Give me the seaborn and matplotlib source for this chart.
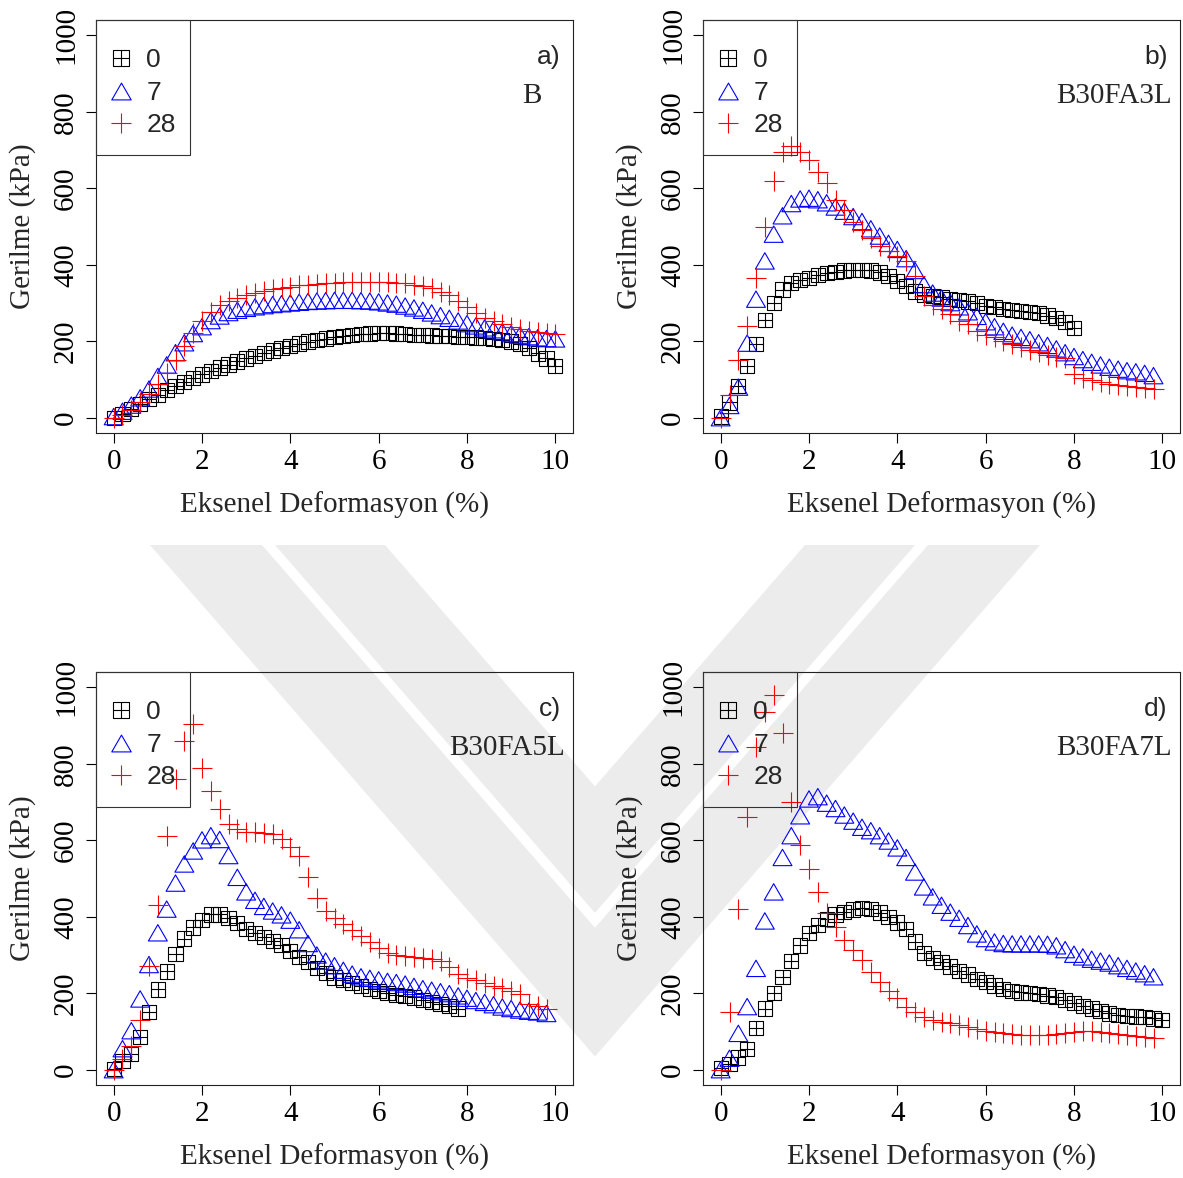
import seaborn as sns
from matplotlib import pyplot as plt
from matplotlib.path import Path
from matplotlib.lines import Line2D
from matplotlib.patches import Rectangle, Polygon

# strain readings (%), shared by every test series
STRAIN = [0.0, 0.2, 0.4, 0.6, 0.8, 1.0, 1.2, 1.4, 1.6, 1.8,
          2.0, 2.2, 2.4, 2.6, 2.8, 3.0, 3.2, 3.4, 3.6, 3.8,
          4.0, 4.2, 4.4, 4.6, 4.8, 5.0, 5.2, 5.4, 5.6, 5.8,
          6.0, 6.2, 6.4, 6.6, 6.8, 7.0, 7.2, 7.4, 7.6, 7.8,
          8.0, 8.2, 8.4, 8.6, 8.8, 9.0, 9.2, 9.4, 9.6, 9.8, 10.0]

AGES = ['0', '7', '28']

# a) B
b_0 = [0, 10, 22, 35, 48, 60, 72, 83, 94, 104, 113, 122, 131, 139, 147, 155, 162, 169, 176, 182,
       188, 194, 199, 203, 207, 211, 214, 217, 219, 220, 221, 221, 220, 219, 217, 216, 215, 214, 213, 212,
       211, 210, 208, 206, 203, 199, 192, 182, 168, 155, 135]
b_7 = [3, 17, 33, 52, 75, 108, 138, 170, 196, 220, 238, 254, 266, 275, 281, 286, 290, 293, 296, 298,
       300, 302, 304, 305, 306, 307, 307, 307, 306, 305, 303, 300, 297, 292, 287, 281, 274, 267, 260, 253,
       246, 240, 235, 230, 225, 220, 216, 212, 209, 207, 206]
b_28 = [0, 8, 20, 40, 62, 88, 118, 150, 188, 222, 252, 276, 294, 306, 314, 320, 326, 331, 336, 340,
        343, 346, 348, 350, 352, 353, 354, 355, 355, 355, 355, 354, 353, 351, 348, 344, 338, 330, 320, 306,
        290, 275, 262, 252, 244, 237, 231, 226, 223, 221, 219]

# b) B30FA3L
fa3_0 = [3, 40, 82, 135, 193, 255, 300, 335, 353, 360, 366, 373, 378, 382, 385, 386, 386, 385, 380, 370,
         358, 344, 330, 322, 319, 315, 311, 308, 304, 299, 293, 289, 285, 281, 279, 277, 273, 267, 261, 250,
         234]
fa3_7 = [0, 32, 80, 195, 310, 410, 480, 528, 560, 572, 574, 570, 562, 551, 540, 526, 513, 494, 475, 456,
         440, 416, 385, 348, 326, 313, 301, 290, 277, 265, 251, 238, 226, 216, 210, 204, 196, 189, 180, 170,
         160, 152, 145, 138, 132, 127, 123, 120, 116, 110]
fa3_28 = [0, 60, 150, 240, 365, 499, 620, 695, 711, 695, 675, 642, 615, 570, 542, 512, 490, 470, 450, 436,
          424, 410, 370, 318, 295, 285, 272, 252, 244, 228, 215, 210, 200, 194, 186, 178, 171, 165, 160, 155,
          115, 105, 98, 93, 89, 86, 83, 80, 77, 74]

# c) B30FA5L
fa5_0 = [2, 22, 42, 85, 150, 210, 257, 303, 343, 372, 392, 406, 406, 396, 384, 368, 357, 347, 337, 327,
         310, 295, 281, 265, 252, 241, 234, 227, 219, 211, 205, 200, 196, 192, 189, 183, 177, 172, 167, 160]
fa5_7 = [0, 55, 102, 185, 275, 358, 420, 488, 538, 572, 601, 612, 602, 560, 503, 465, 443, 427, 415, 405,
         391, 366, 330, 300, 284, 272, 260, 250, 243, 239, 235, 231, 228, 224, 218, 212, 208, 204, 199, 193,
         187, 181, 176, 170, 164, 160, 156, 153, 151, 147]
fa5_28 = [0, 28, 62, 130, 270, 430, 610, 760, 860, 905, 790, 728, 682, 642, 630, 622, 621, 620, 616, 603,
          582, 558, 505, 450, 414, 396, 381, 366, 350, 334, 318, 305, 301, 298, 295, 293, 289, 284, 268, 251,
          240, 234, 228, 219, 213, 205, 198, 172, 166, 159]

# d) B30FA7L
fa7_0 = [5, 15, 32, 55, 110, 160, 200, 243, 285, 325, 357, 378, 394, 406, 413, 419, 422, 421, 411, 399,
         385, 368, 335, 305, 292, 282, 270, 258, 249, 237, 229, 220, 211, 205, 202, 201, 198, 194, 190, 182,
         175, 167, 160, 153, 147, 143, 140, 139, 137, 134, 130]
fa7_7 = [0, 30, 95, 165, 265, 389, 465, 555, 612, 664, 708, 714, 697, 683, 666, 650, 634, 625, 612, 598,
         580, 555, 517, 478, 452, 430, 412, 396, 377, 355, 343, 334, 330, 329, 329, 329, 329, 328, 324, 314,
         302, 295, 289, 284, 279, 272, 265, 258, 251, 243]
fa7_28 = [0, 150, 420, 660, 845, 935, 980, 880, 700, 588, 525, 465, 410, 372, 340, 314, 287, 256, 230, 206,
          187, 165, 150, 138, 130, 126, 121, 116, 112, 107, 102, 98, 95, 93, 91, 91, 91, 92, 94, 96,
          98, 100, 100, 98, 96, 93, 90, 87, 85, 83]

PANELS = [('a)', 'B', b_0, b_7, b_28),
          ('b)', 'B30FA3L', fa3_0, fa3_7, fa3_28),
          ('c)', 'B30FA5L', fa5_0, fa5_7, fa5_28),
          ('d)', 'B30FA7L', fa7_0, fa7_7, fa7_28)]

# axes boxes in pixels (left, top, right, bottom)
BOXES = [(96, 20, 573, 433), (703, 20, 1180, 433),
         (96, 672, 573, 1085), (703, 672, 1180, 1085)]
W, H = 1183, 1178
AX_W, AX_H = 477, 413

SERIF = ['Liberation Serif', 'DejaVu Serif']
SANS = ['Liberation Sans', 'DejaVu Sans']

sns.set_style('ticks')
plt.rcParams['font.family'] = SERIF
plt.rcParams['axes.linewidth'] = 0.8

# R-style markers: square with a cross inside, and an equilateral open triangle
SQ_PLUS = Path([(-1, -1), (1, -1), (1, 1), (-1, 1), (-1, -1), (-1, 0), (1, 0), (0, -1), (0, 1)],
               [Path.MOVETO, Path.LINETO, Path.LINETO, Path.LINETO, Path.CLOSEPOLY,
                Path.MOVETO, Path.LINETO, Path.MOVETO, Path.LINETO])
TRI = Path([(-1, -0.866), (1, -0.866), (0, 0.866), (-1, -0.866)],
           [Path.MOVETO, Path.LINETO, Path.LINETO, Path.CLOSEPOLY])

STYLES = [dict(marker=SQ_PLUS, color='black', s=105, facecolor='none', edgecolor='black'),
          dict(marker=TRI, color='blue', s=185, facecolor='none', edgecolor='blue'),
          dict(marker='+', color='red', s=225)]

fig = plt.figure(figsize=(W / 100, H / 100), dpi=100)


def chevron(cx, top, inner, outer, slope=0.87):
    # downward "V" band of the page watermark, in pixels
    pts = [(cx - outer, top), (cx - inner, top), (cx, top + inner / slope),
           (cx + inner, top), (cx + outer, top), (cx, top + outer / slope)]
    return Polygon([(x / W, 1 - y / H) for x, y in pts], closed=True, transform=fig.transFigure,
                   fc='#ececec', ec='none', zorder=0)


fig.add_artist(chevron(595, 545, 333, 445))
fig.add_artist(chevron(595, 545, 210, 320))

for (tag, name, s0, s7, s28), (x0, y0, x1, y1) in zip(PANELS, BOXES):
    ax = fig.add_axes([x0 / W, 1 - y1 / H, (x1 - x0) / W, (y1 - y0) / H])
    ax.set_facecolor('none')
    for vals, st in zip([s0, s7, s28], STYLES):
        sns.scatterplot(x=STRAIN[:len(vals)], y=vals, ax=ax, linewidth=0.8, zorder=3, **st)

    ax.set_xlim(-0.4, 10.4)
    ax.set_ylim(-40, 1040)
    ax.set_xticks(range(0, 11, 2))
    ax.set_yticks(range(0, 1001, 200))
    ax.tick_params(direction='out', length=7.2, width=0.8, labelsize=21, colors='black')
    ax.tick_params(axis='x', pad=4)
    ax.tick_params(axis='y', pad=5, labelrotation=90)
    for lab in ax.get_yticklabels():
        lab.set_va('center')
    for sp in ax.spines.values():
        sp.set_visible(True)
        sp.set_color('#222222')

    ax.set_xlabel('Eksenel Deformasyon (%)', fontsize=21, va='center')
    ax.xaxis.set_label_coords(0.5, -0.174)
    ax.set_ylabel('Gerilme (kPa)', fontsize=21, va='center')
    ax.yaxis.set_label_coords(-0.153, 0.5)

    handles = [Line2D([], [], ls='none', marker=SQ_PLUS, ms=11, mfc='none', mec='black', mew=0.8),
               Line2D([], [], ls='none', marker=TRI, ms=14, mfc='none', mec='blue', mew=0.8),
               Line2D([], [], ls='none', marker='+', ms=15, color='red', mew=0.8)]
    ax.legend(handles, AGES, loc='upper left', bbox_to_anchor=(0, 1 - 10 / AX_H), borderaxespad=0,
              prop={'family': SANS, 'size': 19}, frameon=False, borderpad=0.7,
              handlelength=0.5, handletextpad=0.7, labelspacing=0.32)
    # legend box drawn on its own so the rows can sit lower inside it
    ax.add_patch(Rectangle((0, 1 - 135 / AX_H), 94 / AX_W, 135 / AX_H, transform=ax.transAxes,
                           fill=False, ec='#333333', lw=0.8, clip_on=False, zorder=5))

    ax.text(0.974, 0.910, tag, transform=ax.transAxes, ha='right', va='center',
            family=SANS, fontsize=19)
    ax.text(0.934 if name == 'B' else 0.983, 0.815, name, transform=ax.transAxes,
            ha='right', va='center', fontsize=21)

fig.savefig('out.png', dpi=100, facecolor='white')
